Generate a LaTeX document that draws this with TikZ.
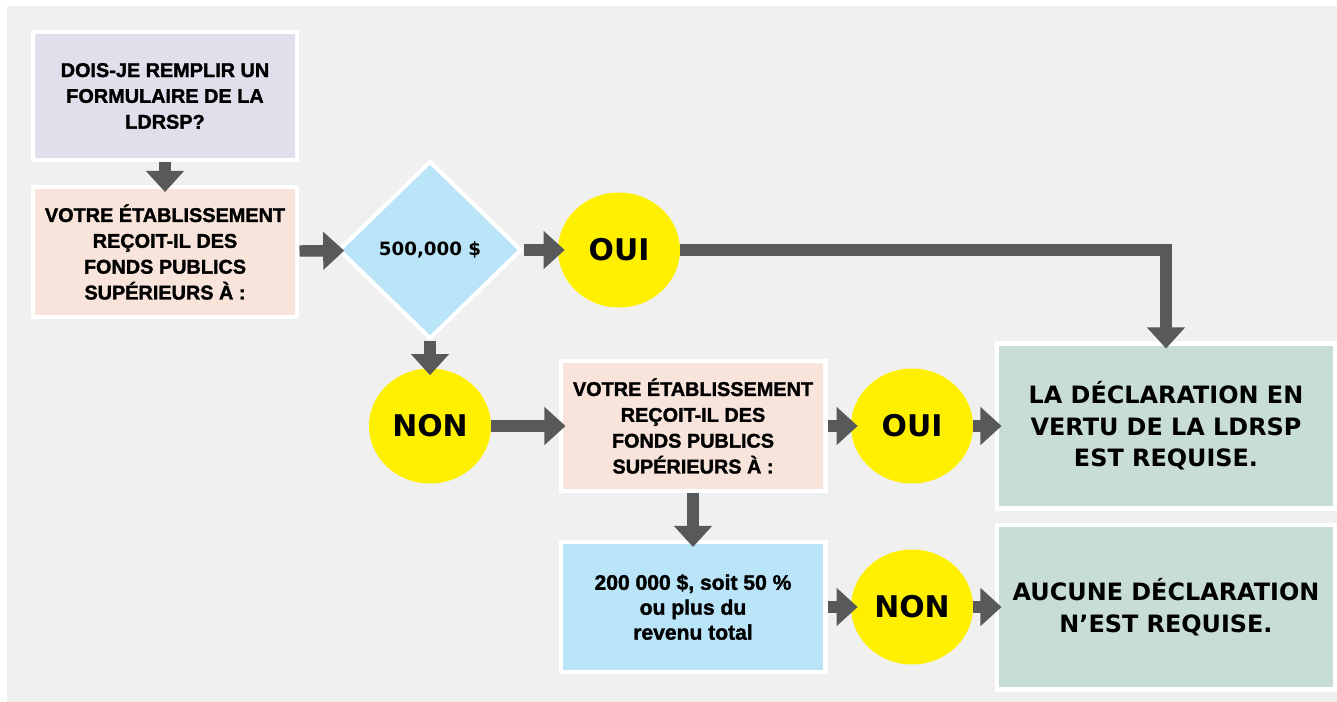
\documentclass[tikz,border=0pt]{standalone}
\usepackage{fontspec}
\setmainfont{Liberation Sans}[BoldFeatures={FakeBold=1.6}]
\newfontfamily\heavyfont{DejaVu Sans}
\usetikzlibrary{arrows.meta,shapes.geometric}
\definecolor{bggray}{HTML}{F0F0F0}
\definecolor{lavender}{HTML}{E0E0EC}
\definecolor{peach}{HTML}{F8E4DA}
\definecolor{skyblue}{HTML}{BAE4F7}
\definecolor{sage}{HTML}{C8DDD8}
\definecolor{signyellow}{HTML}{FFF000}
\definecolor{arrowgray}{HTML}{58595B}
\tikzset{
  qbox/.style={draw=white, line width=2.3pt, minimum width=5.3cm, minimum height=2.6cm, align=center, font=\bfseries\fontsize{11.3}{14.7}\selectfont},
  answer/.style={ellipse, fill=signyellow, minimum width=2.44cm, minimum height=2.3cm, inner sep=0pt, font=\heavyfont\bfseries\fontsize{17}{20}\selectfont},
  result/.style={draw=white, line width=2.3pt, fill=sage, minimum width=6.78cm, minimum height=3.3cm, align=center, font=\heavyfont\bfseries\fontsize{13.6}{18}\selectfont},
  flow/.style={arrowgray, line width=6.5pt, -{Triangle[width=21pt,length=12pt]}, shorten >=-4pt},
}
\begin{document}
\begin{tikzpicture}[x=0.02cm, y=-0.02cm]
\useasboundingbox[fill=white] (0,0) rectangle (1337,702);
\fill[bggray] (7,6) rectangle (1337,702); % backdrop
% questions
\node[qbox, fill=lavender, minimum height=2.56cm] at (165,96) (q1){DOIS-JE REMPLIR UN\\FORMULAIRE DE LA\\LDRSP?};
\node[qbox, fill=peach] at (165,252) (q2){VOTRE ÉTABLISSEMENT\\REÇOIT-IL DES\\FONDS PUBLICS\\SUPÉRIEURS À :};
\node[diamond, draw=white, line width=2.3pt, fill=skyblue, minimum width=3.66cm, minimum height=3.56cm, inner sep=0pt, font=\heavyfont\bfseries\fontsize{10.4}{12}\selectfont] at (430,250) (dia){500,000 \$};
\node[qbox, fill=peach] at (693,426) (q3){VOTRE ÉTABLISSEMENT\\REÇOIT-IL DES\\FONDS PUBLICS\\SUPÉRIEURS À :};
\node[qbox, fill=skyblue, font=\bfseries\fontsize{12}{14.2}\selectfont] at (693,607) (q4){200 000 \$, soit 50 \%\\ou plus du\\revenu total};
% answers
\node[answer] at (619,250) (oui1){OUI};
\node[answer] at (430,426) (non1){NON};
\node[answer] at (912,426) (oui2){OUI};
\node[answer] at (912,607) (non2){NON};
% outcomes
\node[result] at (1166,426) (res1){LA DÉCLARATION EN\\VERTU DE LA LDRSP\\EST REQUISE.};
\node[result] at (1166,607) (res2){AUCUNE DÉCLARATION\\N’EST REQUISE.};
% flow
\draw[flow] (q1) -- (q2);
\draw[flow] (q2) -- (dia);
\draw[flow] (dia) -- (oui1);
\draw[flow] (dia) -- (non1);
\draw[flow] (oui1.east) -| (res1.north); % long way round
\draw[flow] (non1) -- (q3);
\draw[flow] (q3) -- (oui2);
\draw[flow] (oui2) -- (res1);
\draw[flow] (q3) -- (q4);
\draw[flow] (q4) -- (non2);
\draw[flow] (non2) -- (res2);
\end{tikzpicture}
\end{document}
